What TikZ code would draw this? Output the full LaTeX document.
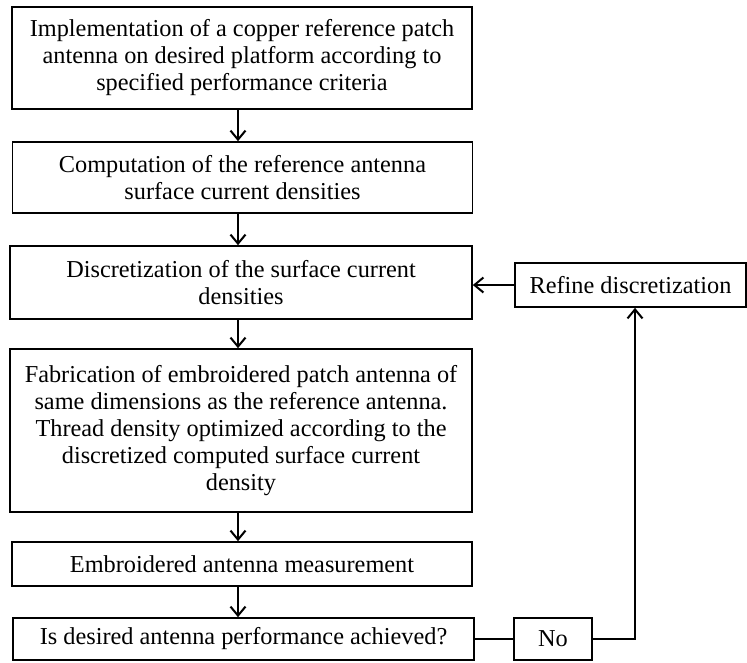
\documentclass[tikz,border=0pt]{standalone}
\usepackage{fontspec}
\setmainfont{Liberation Serif}
\usetikzlibrary{arrows.meta}
\begin{document}
\begin{tikzpicture}[x=1pt,y=-1pt,
  box/.style={draw,line width=1.7pt,rectangle,inner sep=0pt,align=center,
    font=\fontsize{24.3}{27}\selectfont,minimum width=460pt},
  arr/.style={line width=2pt,-{Straight Barb[length=9pt,width=15pt,line width=2pt]}},
  conn/.style={line width=2pt}]
\useasboundingbox (0,0) rectangle (747,662);
\node[box,minimum height=102pt] (b1) at (242,58) {Implementation of a copper reference patch\\antenna on desired platform according to\\specified performance criteria};
\node[box,minimum height=71pt] (b2) at (242.5,177.5) {Computation of the reference antenna\\surface current densities};
\node[box,minimum height=73pt,minimum width=462pt] (b3) at (241,282.5) {Discretization of the surface current\\densities};
\node[box,minimum height=163pt,minimum width=462pt] (b4) at (241,430.5) {Fabrication of embroidered patch antenna of\\same dimensions as the reference antenna.\\Thread density optimized according to the\\discretized computed surface current\\density};
\node[box,minimum height=44pt] (b5) at (242,564) {Embroidered antenna measurement};
\node[box,minimum height=42pt,minimum width=461pt] (b6) at (243.5,639) {Is desired antenna performance achieved?};
\node[box,minimum height=44pt,minimum width=231pt] (rf) at (630.5,285) {Refine discretization};
\node[box,minimum height=42pt,minimum width=78pt] (no) at (553,639) {No};
\coordinate (ax) at (238,0);
\coordinate (cx) at (635,0);
\draw[arr] (b1.south -| ax) -- (b2.north -| ax);
\draw[arr] (b2.south -| ax) -- (b3.north -| ax);
\draw[arr] (b3.south -| ax) -- (b4.north -| ax);
\draw[arr] (b4.south -| ax) -- (b5.north -| ax);
\draw[arr] (b5.south -| ax) -- (b6.north -| ax);
\draw[conn] (b6.east) -- (no.west);
\draw[arr] (no.east) -| (rf.south -| cx);
\draw[arr] (rf.west) -- (b3.east |- rf.west);
\end{tikzpicture}
\end{document}
